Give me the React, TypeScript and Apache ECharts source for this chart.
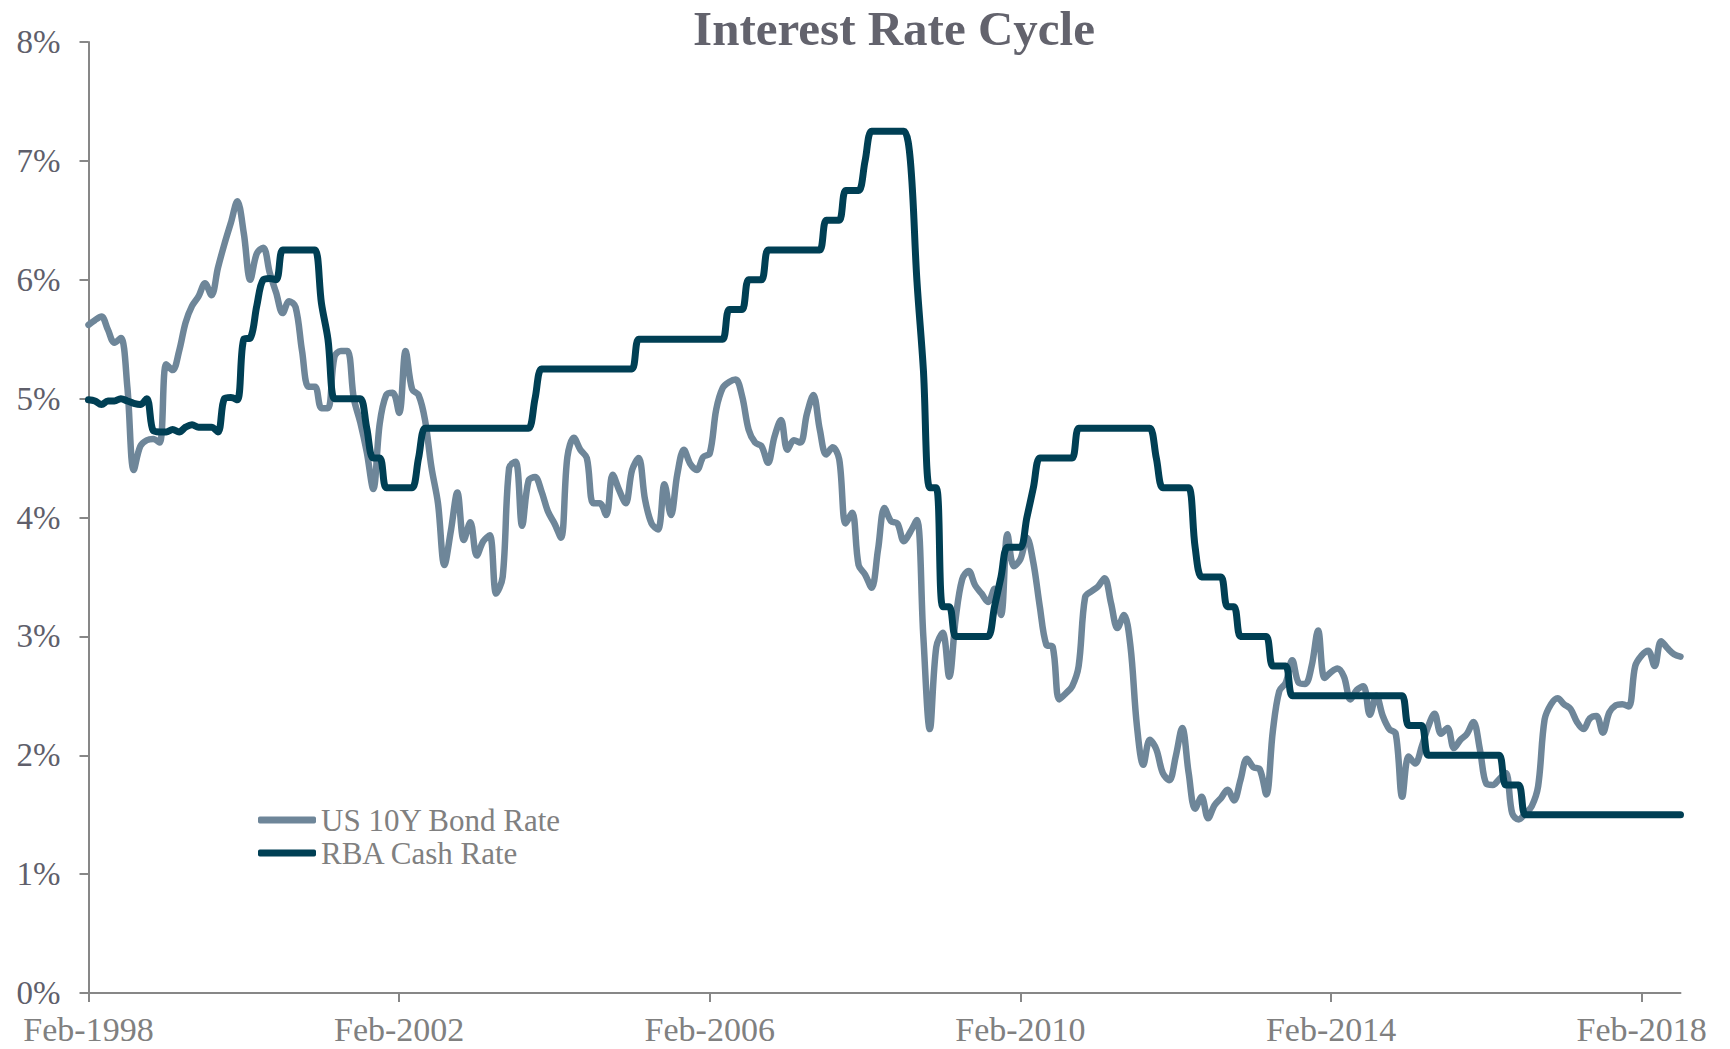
import React, { useEffect, useRef } from "react";
import * as echarts from "echarts";

const MONTHS = ["Jan", "Feb", "Mar", "Apr", "May", "Jun", "Jul", "Aug", "Sep", "Oct", "Nov", "Dec"];
const START_YEAR = 1998;
const START_MONTH = 1; // Feb

const SERIES_NAMES = ["US 10Y Bond Rate", "RBA Cash Rate"];

const usBond = [
  5.62, 5.66, 5.69, 5.58, 5.47, 5.51, 5.1, 4.4, 4.6, 4.65,
  4.66, 4.63, 5.29, 5.24, 5.4, 5.64, 5.78, 5.86, 5.97, 5.87,
  6.1, 6.3, 6.48, 6.66, 6.39, 6.0, 6.22, 6.27, 6.06, 5.89,
  5.72, 5.82, 5.77, 5.4, 5.1, 5.1, 4.92, 4.92, 5.35, 5.4,
  5.4, 5.0, 4.8, 4.55, 4.24, 4.79, 5.03, 5.05, 4.88, 5.4,
  5.08, 5.03, 4.82, 4.42, 4.12, 3.6, 3.89, 4.21, 3.81, 3.96,
  3.68, 3.8, 3.85, 3.36, 3.5, 4.42, 4.47, 3.93, 4.31, 4.34,
  4.22, 4.05, 3.95, 3.83, 4.51, 4.67, 4.57, 4.5, 4.12, 4.12,
  4.02, 4.36, 4.23, 4.12, 4.4, 4.5, 4.15, 3.95, 3.9, 4.28,
  4.02, 4.37, 4.57, 4.45, 4.4, 4.51, 4.54, 4.91, 5.09, 5.14,
  5.16, 5.02, 4.74, 4.63, 4.6, 4.46, 4.68, 4.82, 4.57, 4.65,
  4.63, 4.87, 5.03, 4.74, 4.53, 4.59, 4.49, 3.95, 4.04, 3.6,
  3.52, 3.41, 3.73, 4.08, 3.97, 3.95, 3.8, 3.88, 3.98, 3.0,
  2.22, 2.91, 3.03, 2.66, 3.15, 3.48, 3.55, 3.43, 3.36, 3.29,
  3.4, 3.18, 3.86, 3.59, 3.65, 3.83, 3.62, 3.25, 2.93, 2.91,
  2.47, 2.52, 2.58, 2.75, 3.33, 3.38, 3.42, 3.49, 3.28, 3.07,
  3.18, 2.92, 2.25, 1.92, 2.13, 2.05, 1.85, 1.79, 1.99, 2.23,
  1.85, 1.55, 1.65, 1.47, 1.58, 1.64, 1.71, 1.62, 1.79, 1.97,
  1.9, 1.88, 1.67, 2.2, 2.54, 2.61, 2.8, 2.61, 2.6, 2.75,
  3.05, 2.65, 2.7, 2.73, 2.66, 2.47, 2.55, 2.58, 2.34, 2.5,
  2.33, 2.22, 2.18, 1.65, 1.99, 1.93, 2.07, 2.24, 2.35, 2.18,
  2.23, 2.06, 2.13, 2.18, 2.28, 2.05, 1.76, 1.75, 1.8, 1.85,
  1.51, 1.46, 1.51, 1.57, 1.74, 2.3, 2.43, 2.48, 2.43, 2.39,
  2.28, 2.22, 2.31, 2.33, 2.19, 2.36, 2.42, 2.43, 2.41, 2.75,
  2.84, 2.88, 2.75, 2.96, 2.9, 2.85, 2.83,
];

const rbaCash = [
  4.99, 4.98, 4.95, 4.98, 4.98, 5.0, 4.98, 4.96, 4.95, 5.0,
  4.73, 4.72, 4.72, 4.74, 4.72, 4.76, 4.78, 4.76, 4.76, 4.76,
  4.72, 5.0, 5.01, 4.99, 5.5, 5.51, 5.78, 6.0, 6.01, 6.0,
  6.25, 6.25, 6.25, 6.25, 6.25, 6.25, 5.8, 5.5, 5.0, 5.0,
  5.0, 5.0, 5.0, 4.75, 4.5, 4.5, 4.25, 4.25, 4.25, 4.25,
  4.25, 4.5, 4.75, 4.75, 4.75, 4.75, 4.75, 4.75, 4.75, 4.75,
  4.75, 4.75, 4.75, 4.75, 4.75, 4.75, 4.75, 4.75, 4.75, 5.0,
  5.25, 5.25, 5.25, 5.25, 5.25, 5.25, 5.25, 5.25, 5.25, 5.25,
  5.25, 5.25, 5.25, 5.25, 5.25, 5.5, 5.5, 5.5, 5.5, 5.5,
  5.5, 5.5, 5.5, 5.5, 5.5, 5.5, 5.5, 5.5, 5.5, 5.75,
  5.75, 5.75, 6.0, 6.0, 6.0, 6.25, 6.25, 6.25, 6.25, 6.25,
  6.25, 6.25, 6.25, 6.25, 6.5, 6.5, 6.5, 6.75, 6.75, 6.75,
  7.0, 7.25, 7.25, 7.25, 7.25, 7.25, 7.25, 7.0, 6.0, 5.25,
  4.25, 4.25, 3.25, 3.25, 3.0, 3.0, 3.0, 3.0, 3.0, 3.0,
  3.25, 3.5, 3.75, 3.75, 3.75, 4.0, 4.25, 4.5, 4.5, 4.5,
  4.5, 4.5, 4.5, 4.75, 4.75, 4.75, 4.75, 4.75, 4.75, 4.75,
  4.75, 4.75, 4.75, 4.75, 4.75, 4.5, 4.25, 4.25, 4.25, 4.25,
  4.25, 3.75, 3.5, 3.5, 3.5, 3.5, 3.25, 3.25, 3.0, 3.0,
  3.0, 3.0, 3.0, 2.75, 2.75, 2.75, 2.5, 2.5, 2.5, 2.5,
  2.5, 2.5, 2.5, 2.5, 2.5, 2.5, 2.5, 2.5, 2.5, 2.5,
  2.5, 2.5, 2.5, 2.5, 2.25, 2.25, 2.25, 2.0, 2.0, 2.0,
  2.0, 2.0, 2.0, 2.0, 2.0, 2.0, 2.0, 2.0, 2.0, 1.75,
  1.75, 1.75, 1.5, 1.5, 1.5, 1.5, 1.5, 1.5, 1.5, 1.5,
  1.5, 1.5, 1.5, 1.5, 1.5, 1.5, 1.5, 1.5, 1.5, 1.5,
  1.5, 1.5, 1.5, 1.5, 1.5, 1.5, 1.5,
];

const categories = usBond.map((_, i) => {
  const m = START_MONTH + i;
  return `${MONTHS[m % 12]}-${START_YEAR + Math.floor(m / 12)}`;
});

const FONT = "'Liberation Serif', 'Times New Roman', serif";
const AXIS_COLOR = "#878787";
const LIGHT = "#6e8699";
const DARK = "#003f54";

export default function App() {
  const ref = useRef<HTMLDivElement>(null);

  useEffect(() => {
    if (!ref.current) return;
    const chart = echarts.init(ref.current, null, { renderer: "svg" });
    chart.setOption({
      animation: false,
      backgroundColor: "#ffffff",
      graphic: [
        {
          type: "text",
          x: 894,
          y: 28,
          style: {
            text: "Interest Rate Cycle",
            fontFamily: FONT,
            fontSize: 49,
            fontWeight: "bold",
            fill: "#63636d",
            align: "center",
            verticalAlign: "middle",
          },
        },
      ],
      legend: {
        orient: "vertical",
        left: 258,
        top: 804,
        itemGap: 1,
        itemWidth: 58,
        itemHeight: 7,
        icon: "roundRect",
        padding: 0,
        selectedMode: false,
        data: SERIES_NAMES,
        textStyle: { fontFamily: FONT, fontSize: 31, lineHeight: 32, color: "#808080" },
      },
      grid: { left: 88.5, right: 49.5, top: 42, bottom: 56, containLabel: false },
      xAxis: {
        type: "category",
        data: categories,
        boundaryGap: false,
        axisLine: { lineStyle: { color: AXIS_COLOR, width: 2 } },
        axisTick: { interval: 47, length: 9, lineStyle: { color: AXIS_COLOR, width: 2 } },
        axisLabel: { interval: 47, margin: 19, fontFamily: FONT, fontSize: 34, color: "#808080" },
        splitLine: { show: false },
      },
      yAxis: {
        type: "value",
        min: 0,
        max: 8,
        interval: 1,
        axisLine: { show: true, lineStyle: { color: AXIS_COLOR, width: 2 } },
        axisTick: { show: true, length: 9, lineStyle: { color: AXIS_COLOR, width: 2 } },
        axisLabel: { formatter: "{value}%", margin: 28, fontFamily: FONT, fontSize: 33, color: "#5f5f6b" },
        splitLine: { show: false },
      },
      series: [
        {
          name: SERIES_NAMES[0],
          type: "line",
          data: usBond,
          smooth: 0.35,
          symbol: "none",
          lineStyle: { width: 6.5, color: LIGHT, cap: "round", join: "round" },
          itemStyle: { color: LIGHT },
        },
        {
          name: SERIES_NAMES[1],
          type: "line",
          data: rbaCash,
          smooth: 0.35,
          symbol: "none",
          lineStyle: { width: 7, color: DARK, cap: "round", join: "round" },
          itemStyle: { color: DARK },
        },
      ],
    });
    return () => chart.dispose();
  }, []);

  return (
    <div
      ref={ref}
      style={{ position: "fixed", left: 0, top: 0, width: 1730, height: 1049, background: "#ffffff" }}
    />
  );
}
